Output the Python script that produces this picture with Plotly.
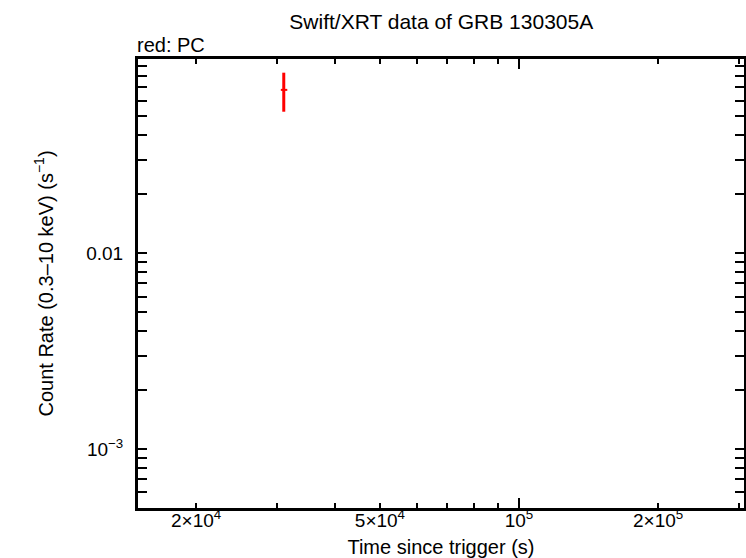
import plotly.graph_objects as go

# PC mode data point (time in s, rate in counts/s)
pc_time = [3.096e4]
pc_time_minus = [450]
pc_time_plus = [550]
pc_rate = [0.068]
pc_rate_minus = [0.0154]
pc_rate_plus = [0.0152]

x_tickvals = [2e4, 5e4, 1e5, 2e5]
x_ticktext = ["2×10<sup>4</sup>", "5×10<sup>4</sup>", "10<sup>5</sup>", "2×10<sup>5</sup>"]
y_tickvals = [1e-3, 1e-2]
y_ticktext = ["10<sup>−3</sup>", "0.01"]

x_range = [4.1753, 5.487]
y_range = [-3.301, -1.01]

font = "Liberation Sans, Arial, Helvetica, sans-serif"

fig = go.Figure()
fig.add_trace(go.Scatter(
    x=pc_time, y=pc_rate, mode="markers",
    marker=dict(color="red", size=1),
    error_x=dict(type="data", symmetric=False, array=pc_time_plus,
                 arrayminus=pc_time_minus, color="red", thickness=2, width=0),
    error_y=dict(type="data", symmetric=False, array=pc_rate_plus,
                 arrayminus=pc_rate_minus, color="red", thickness=3, width=0),
    showlegend=False, hoverinfo="x+y",
))
# empty trace so the overlay axis (long decade tick) is drawn
fig.add_trace(go.Scatter(x=[], y=[], xaxis="x2", yaxis="y", showlegend=False))

fig.update_layout(
    width=746, height=558,
    margin=dict(l=138, r=2, t=59, b=50),
    paper_bgcolor="white", plot_bgcolor="white",
    font=dict(family=font, size=19, color="black"),
    title=dict(text="Swift/XRT data of GRB 130305A", x=0.5915, xanchor="center",
               y=0.9606, yanchor="middle", font=dict(size=21)),
    xaxis=dict(
        type="log", range=x_range, tickvals=x_tickvals, ticktext=x_ticktext,
        ticks="inside", ticklen=5, tickwidth=2, tickcolor="black",
        minor=dict(ticks="inside", ticklen=5, tickwidth=2, tickcolor="black", dtick="D1"),
        showline=True, linewidth=3, linecolor="black", mirror="allticks",
        showgrid=False, zeroline=False, automargin=False,
        ticklabelstandoff=-7,
        title=dict(text="Time since trigger (s)", font=dict(size=20), standoff=12),
        tickfont=dict(size=19),
    ),
    xaxis2=dict(
        type="log", range=x_range, overlaying="x", anchor="y", side="bottom",
        tickvals=[1e5], ticks="inside", ticklen=10, tickwidth=2, tickcolor="black",
        showticklabels=False, showline=False, mirror="allticks",
        showgrid=False, zeroline=False, automargin=False,
    ),
    yaxis=dict(
        type="log", range=y_range, tickvals=y_tickvals, ticktext=y_ticktext,
        ticks="inside", ticklen=9, tickwidth=2, tickcolor="black",
        minor=dict(ticks="inside", ticklen=5, tickwidth=2, tickcolor="black", dtick="D1"),
        showline=True, linewidth=3, linecolor="black", mirror="allticks",
        showgrid=False, zeroline=False, automargin=False,
        ticklabelstandoff=8,
        title=dict(text="Count Rate (0.3–10 keV) (s<sup>−1</sup>)", font=dict(size=20), standoff=28),
        tickfont=dict(size=19),
    ),
    annotations=[dict(text="red: PC", xref="paper", yref="paper", x=0, y=1.0,
                      xanchor="left", yanchor="bottom", yshift=1, xshift=-3,
                      showarrow=False, font=dict(size=20))],
)

# the page body has a default 8px margin; remove it so the figure sits at the top-left corner
fig.write_html("out.html", config={"displayModeBar": False},
               post_script="document.body.style.margin = '0';")
